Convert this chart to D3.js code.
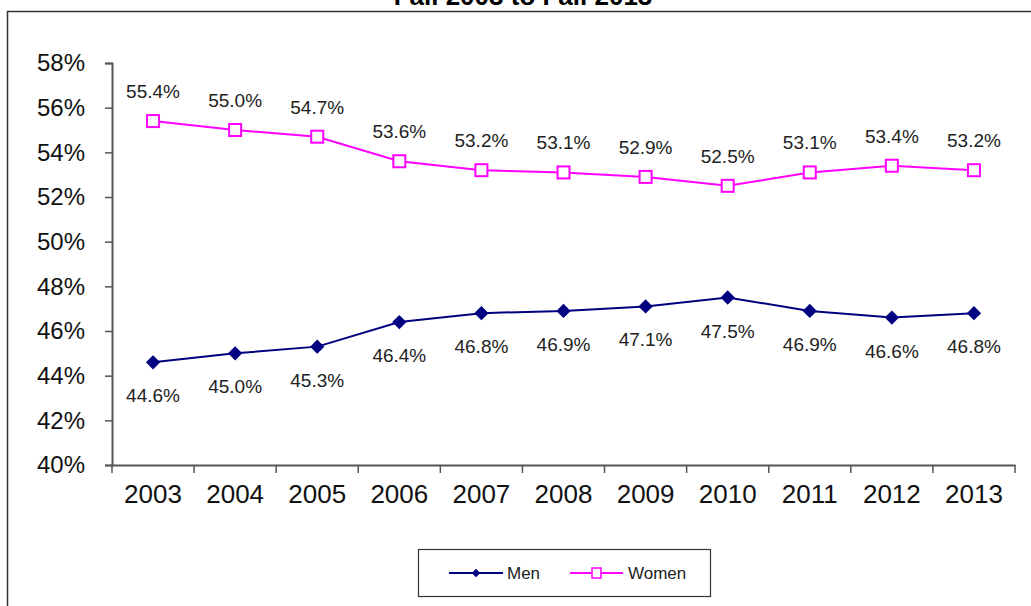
<!DOCTYPE html>
<html>
<head>
<meta charset="utf-8">
<script src="https://cdn.jsdelivr.net/npm/d3@7/dist/d3.min.js"></script>
<style>
  body { margin: 0; background: #fff; }
  svg { display: block; font-family: "Liberation Sans", Arial, sans-serif; }
</style>
</head>
<body>
<svg id="chart"></svg>
<script>
var years = ["2003", "2004", "2005", "2006", "2007", "2008", "2009", "2010", "2011", "2012", "2013"]
var men = [44.6, 45.0, 45.3, 46.4, 46.8, 46.9, 47.1, 47.5, 46.9, 46.6, 46.8]
var women = [55.4, 55.0, 54.7, 53.6, 53.2, 53.1, 52.9, 52.5, 53.1, 53.4, 53.2]
var yTicks = [40, 42, 44, 46, 48, 50, 52, 54, 56, 58]

var dimensions = {
    width: 1031,
    height: 606,
    margin: { top: 63, bottom: 141, left: 112, right: 16 }
}

var svg = d3.select("#chart")
    .attr("width", dimensions.width)
    .attr("height", dimensions.height)

// outer frame (right and bottom edges fall outside the picture)
svg.append("rect")
    .attr("x", 7.5).attr("y", 11.5)
    .attr("width", 1040).attr("height", 620)
    .attr("fill", "none")
    .attr("stroke", "#333")
    .attr("stroke-width", 1.5)

// title, mostly cut off at the top as in the original
svg.append("text")
    .attr("x", 523)
    .attr("y", 5)
    .attr("text-anchor", "middle")
    .style("font-size", "26px")
    .style("font-weight", "bold")
    .text("Fall 2003 to Fall 2013")

var xScale = d3.scaleBand()
    .domain(years)
    .range([dimensions.margin.left, dimensions.width - dimensions.margin.right])

var yScale = d3.scaleLinear()
    .domain([40, 58])
    .range([dimensions.height - dimensions.margin.bottom, dimensions.margin.top])

var xAxisGen = d3.axisBottom(xScale).tickSize(0).tickPadding(20)
var yAxisGen = d3.axisLeft(yScale)
    .tickValues(yTicks)
    .tickSize(7)
    .tickPadding(20)
    .tickFormat(d => d + "%")

var yAxis = svg.append("g")
    .attr("transform", "translate(" + dimensions.margin.left + ",0)")
    .call(yAxisGen)
yAxis.select(".domain").attr("stroke", "#555").attr("stroke-width", 2)
yAxis.selectAll(".tick line").attr("stroke", "#555").attr("stroke-width", 1.5)
yAxis.selectAll("text").style("font-size", "24px").attr("fill", "#111")

var xAxis = svg.append("g")
    .attr("transform", "translate(0," + yScale(40) + ")")
    .call(xAxisGen)
xAxis.select(".domain").attr("stroke", "#555").attr("stroke-width", 2)
xAxis.selectAll("text").style("font-size", "26px").attr("fill", "#111")

// tick marks between categories on the x axis
var bounds = years.map(d => xScale(d)).concat([xScale.range()[1]])
svg.append("g")
    .selectAll("line")
    .data(bounds)
    .enter()
    .append("line")
    .attr("x1", d => d).attr("x2", d => d)
    .attr("y1", yScale(40)).attr("y2", yScale(40) + 8)
    .attr("stroke", "#555")
    .attr("stroke-width", 1.5)

var cx = d => xScale(d) + xScale.bandwidth() / 2

var line = d3.line()
    .x((d, i) => cx(years[i]))
    .y(d => yScale(d))

// men series
svg.append("path")
    .datum(men)
    .attr("d", line)
    .attr("fill", "none")
    .attr("stroke", "#000080")
    .attr("stroke-width", 2)

svg.append("g")
    .selectAll("path")
    .data(men)
    .enter()
    .append("path")
    .attr("d", d3.symbol().type(d3.symbolDiamond2).size(130))
    .attr("transform", (d, i) => "translate(" + cx(years[i]) + "," + yScale(d) + ")")
    .attr("fill", "#000080")

svg.append("g")
    .selectAll("text")
    .data(men)
    .enter()
    .append("text")
    .attr("x", (d, i) => cx(years[i]))
    .attr("y", d => yScale(d) + 40)
    .attr("text-anchor", "middle")
    .style("font-size", "19px")
    .attr("fill", "#222")
    .text(d => d.toFixed(1) + "%")

// women series
svg.append("path")
    .datum(women)
    .attr("d", line)
    .attr("fill", "none")
    .attr("stroke", "#FF00FF")
    .attr("stroke-width", 2)

svg.append("g")
    .selectAll("rect")
    .data(women)
    .enter()
    .append("rect")
    .attr("x", (d, i) => cx(years[i]) - 6)
    .attr("y", d => yScale(d) - 6)
    .attr("width", 12)
    .attr("height", 12)
    .attr("fill", "#fff")
    .attr("stroke", "#FF00FF")
    .attr("stroke-width", 2)

svg.append("g")
    .selectAll("text")
    .data(women)
    .enter()
    .append("text")
    .attr("x", (d, i) => cx(years[i]))
    .attr("y", d => yScale(d) - 23)
    .attr("text-anchor", "middle")
    .style("font-size", "19px")
    .attr("fill", "#222")
    .text(d => d.toFixed(1) + "%")

// legend
var legend = svg.append("g")
legend.append("rect")
    .attr("x", 418.5).attr("y", 549.5)
    .attr("width", 292).attr("height", 47)
    .attr("fill", "#fff")
    .attr("stroke", "#333")
    .attr("stroke-width", 1.2)

legend.append("line")
    .attr("x1", 449).attr("x2", 503).attr("y1", 573).attr("y2", 573)
    .attr("stroke", "#000080").attr("stroke-width", 2)
legend.append("path")
    .attr("d", d3.symbol().type(d3.symbolDiamond2).size(45))
    .attr("transform", "translate(476,573)")
    .attr("fill", "#000080")
legend.append("text")
    .attr("x", 507).attr("y", 579)
    .style("font-size", "17px")
    .attr("fill", "#222")
    .text("Men")

legend.append("line")
    .attr("x1", 570).attr("x2", 623).attr("y1", 573).attr("y2", 573)
    .attr("stroke", "#FF00FF").attr("stroke-width", 2)
legend.append("rect")
    .attr("x", 592).attr("y", 568)
    .attr("width", 9).attr("height", 10)
    .attr("fill", "#fff")
    .attr("stroke", "#FF00FF")
    .attr("stroke-width", 1.5)
legend.append("text")
    .attr("x", 628).attr("y", 579)
    .style("font-size", "17px")
    .attr("fill", "#222")
    .text("Women")
</script>
</body>
</html>
